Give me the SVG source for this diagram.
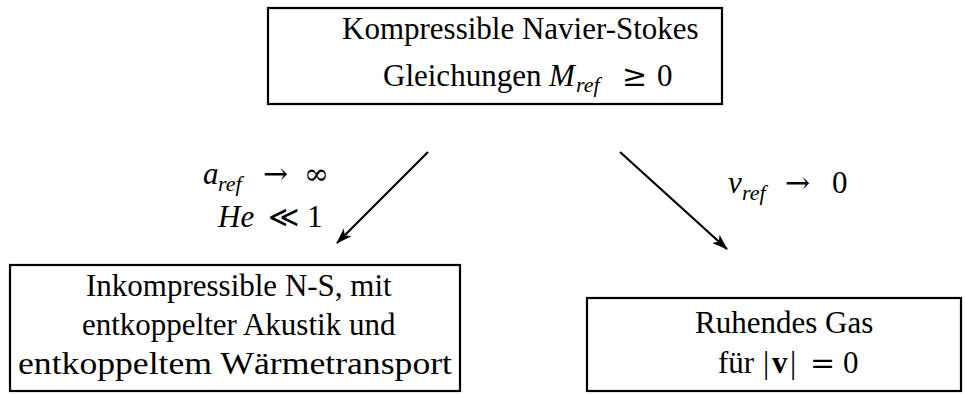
<svg xmlns="http://www.w3.org/2000/svg" width="965" height="394" viewBox="0 0 965 394">
  <style>
    .box { fill: #fff; stroke: #000; stroke-width: 2.2; }
    text { font-family: "Liberation Serif", "Times New Roman", "DejaVu Serif", serif; font-size: 31px; fill: #000; }
    .it { font-style: italic; }
    .sub { font-style: italic; font-size: 22px; }
    .sym { font-family: "DejaVu Serif", "Liberation Serif", serif; font-size: 30px; }
    .edge { stroke: #000; stroke-width: 2.2; fill: none; marker-end: url(#arrow); }
  </style>
  <defs>
    <marker id="arrow" viewBox="0 0 16 12" refX="15" refY="6" markerWidth="16" markerHeight="12" markerUnits="userSpaceOnUse" orient="auto">
      <path d="M0,0.5 L16,6 L0,11.5 L4,6 Z" fill="#000"/>
    </marker>
  </defs>

  <!-- compressible equations -->
  <g id="node-compressible">
    <rect class="box" x="268" y="8" width="454" height="96"/>
    <text x="342" y="39">Kompressible Navier-Stokes</text>
    <text y="86"><tspan x="383">Gleichungen</tspan><tspan class="it" x="549">M</tspan><tspan class="sub" x="576" dy="6">ref</tspan><tspan class="sym" x="622" dy="-6">≥</tspan><tspan x="657">0</tspan></text>
  </g>

  <!-- incompressible limit -->
  <g id="node-incompressible">
    <rect class="box" x="10" y="265" width="450" height="126"/>
    <text x="86" y="296">Inkompressible N-S, mit</text>
    <text x="82" y="335">entkoppelter Akustik und</text>
    <text x="18" y="374" textLength="434" lengthAdjust="spacingAndGlyphs">entkoppeltem Wärmetransport</text>
  </g>

  <!-- gas at rest -->
  <g id="node-rest">
    <rect class="box" x="587" y="298" width="374" height="93"/>
    <text x="695" y="333">Ruhendes Gas</text>
    <text y="373"><tspan x="718">für</tspan><tspan x="763">|</tspan><tspan x="772" font-weight="bold">v</tspan><tspan x="790">|</tspan><tspan class="sym" x="810">=</tspan><tspan x="843">0</tspan></text>
  </g>

  <g id="connectors">
    <line class="edge" x1="428" y1="152" x2="337" y2="243"/>
    <line class="edge" x1="620" y1="152" x2="727" y2="249"/>
    <text y="184"><tspan class="it" x="203">a</tspan><tspan class="sub" x="218" dy="7">ref</tspan><tspan class="sym" x="263" dy="-7" font-size="34">→</tspan><tspan class="sym" x="304" font-size="36">∞</tspan></text>
    <text y="227"><tspan class="it" x="218">He</tspan><tspan class="sym" x="268" font-size="33">≪</tspan><tspan x="307">1</tspan></text>
    <text y="193"><tspan class="it" x="728">v</tspan><tspan class="sub" x="742" dy="7">ref</tspan><tspan class="sym" x="785" dy="-7" font-size="34">→</tspan><tspan x="832">0</tspan></text>
  </g>
</svg>
